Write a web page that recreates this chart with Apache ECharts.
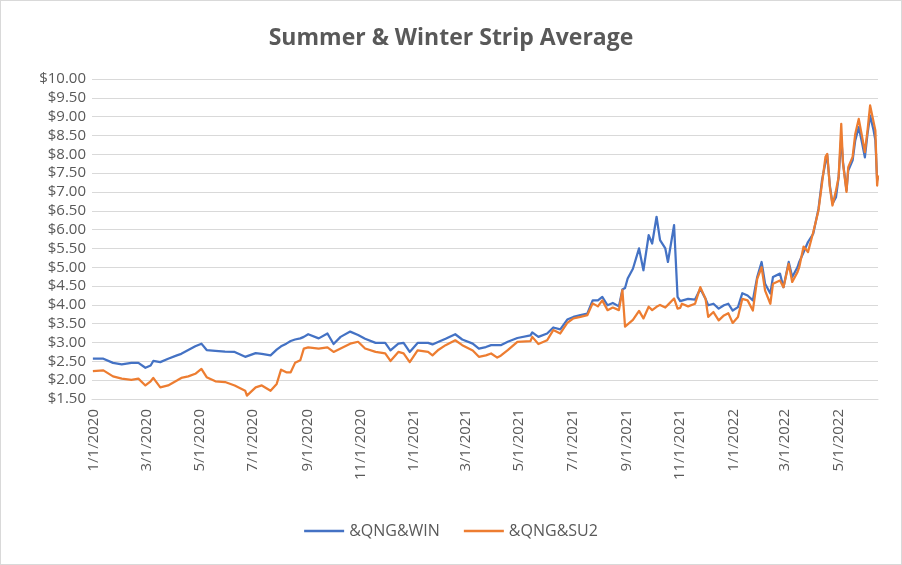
<!DOCTYPE html>
<html>
<head>
<meta charset="utf-8">
<script src="https://cdn.jsdelivr.net/npm/echarts@6/dist/echarts.min.js"></script>
<style>
  html, body { margin: 0; padding: 0; background: #fff; }
  #wrap { position: relative; width: 902px; height: 565px; }
  #chart { width: 902px; height: 565px; }
  #frame { position: absolute; left: 0; top: 0; width: 902px; height: 565px; box-sizing: border-box; border: 1px solid #d9d9d9; pointer-events: none; }
</style>
</head>
<body>
<div id="wrap"><div id="chart"></div><div id="frame"></div></div>
<script>
// ---- data ----
const titleText = 'Summer & Winter Strip Average';
const seriesNames = ['&QNG&WIN', '&QNG&SU2'];
const dates = [
 '2019-12-31','2020-01-12','2020-01-23','2020-02-02','2020-02-13','2020-02-21','2020-02-29','2020-03-06','2020-03-09','2020-03-17',
 '2020-03-26','2020-04-05','2020-04-10','2020-04-18','2020-04-26','2020-05-03','2020-05-09','2020-05-19','2020-05-30','2020-06-10',
 '2020-06-22','2020-06-24','2020-07-04','2020-07-11','2020-07-21','2020-07-28','2020-08-02','2020-08-08','2020-08-13','2020-08-18',
 '2020-08-24','2020-08-28','2020-09-02','2020-09-14','2020-09-24','2020-10-01','2020-10-09','2020-10-20','2020-10-29','2020-11-06',
 '2020-11-18','2020-11-29','2020-12-05','2020-12-14','2020-12-20','2020-12-27','2021-01-05','2021-01-17','2021-01-22','2021-01-29',
 '2021-02-06','2021-02-17','2021-02-25','2021-03-09','2021-03-16','2021-03-24','2021-03-30','2021-04-06','2021-04-10','2021-04-18',
 '2021-04-29','2021-05-14','2021-05-16','2021-05-23','2021-06-02','2021-06-09','2021-06-17','2021-06-25','2021-07-02','2021-07-10',
 '2021-07-18','2021-07-24','2021-07-30','2021-08-04','2021-08-10','2021-08-16','2021-08-23','2021-08-27','2021-08-30','2021-09-02',
 '2021-09-08','2021-09-15','2021-09-20','2021-09-26','2021-09-30','2021-10-05','2021-10-09','2021-10-15','2021-10-18','2021-10-25',
 '2021-10-29','2021-11-01','2021-11-03','2021-11-10','2021-11-18','2021-11-24','2021-11-30','2021-12-03','2021-12-09','2021-12-15',
 '2021-12-21','2021-12-26','2021-12-31','2022-01-06','2022-01-11','2022-01-17','2022-01-23','2022-01-28','2022-02-02','2022-02-06',
 '2022-02-12','2022-02-15','2022-02-23','2022-02-27','2022-03-05','2022-03-09','2022-03-15','2022-03-17','2022-03-22','2022-03-27',
 '2022-04-02','2022-04-08','2022-04-12','2022-04-16','2022-04-18','2022-04-21','2022-04-24','2022-04-28','2022-05-01','2022-05-04',
 '2022-05-06','2022-05-10','2022-05-12','2022-05-17','2022-05-20','2022-05-24','2022-05-28','2022-05-31','2022-06-03','2022-06-06',
 '2022-06-10','2022-06-12','2022-06-14','2022-06-15'
];
const winValues = [
 2.57,2.57,2.46,2.42,2.46,2.46,2.33,2.39,2.51,2.48,
 2.57,2.66,2.70,2.80,2.90,2.97,2.80,2.78,2.76,2.75,
 2.62,2.60,2.72,2.70,2.66,2.81,2.90,2.97,3.04,3.08,
 3.11,3.15,3.22,3.11,3.24,2.96,3.15,3.29,3.20,3.10,
 2.99,2.99,2.79,2.97,2.99,2.75,2.99,2.99,2.95,3.02,
 3.10,3.22,3.08,2.97,2.84,2.88,2.93,2.93,2.93,3.02,
 3.12,3.19,3.27,3.15,3.24,3.40,3.35,3.61,3.68,3.73,
 3.77,4.12,4.12,4.21,3.99,4.05,3.96,4.41,4.45,4.70,
 4.96,5.50,4.92,5.85,5.63,6.34,5.72,5.50,5.14,6.12,
 4.21,4.10,4.12,4.16,4.14,4.43,4.16,3.99,4.03,3.90,
 3.99,4.03,3.85,3.94,4.31,4.25,4.12,4.74,5.14,4.56,
 4.30,4.74,4.83,4.47,5.14,4.74,5.00,5.14,5.40,5.67,
 5.89,6.55,7.31,7.79,7.97,7.17,6.69,6.86,7.39,8.45,
 7.79,7.04,7.57,7.84,8.37,8.72,8.28,7.92,8.54,9.03,
 8.63,8.37,7.31,7.39
];
const su2Values = [
 2.24,2.26,2.10,2.04,2.01,2.04,1.86,1.97,2.06,1.81,
 1.86,1.99,2.06,2.10,2.17,2.30,2.08,1.97,1.95,1.86,
 1.72,1.59,1.81,1.86,1.72,1.90,2.28,2.21,2.21,2.46,
 2.53,2.84,2.87,2.84,2.87,2.75,2.84,2.97,3.02,2.84,
 2.75,2.71,2.51,2.75,2.71,2.48,2.79,2.75,2.66,2.81,
 2.93,3.06,2.93,2.79,2.62,2.66,2.71,2.60,2.65,2.80,
 3.02,3.04,3.15,2.96,3.06,3.33,3.24,3.52,3.64,3.68,
 3.73,4.04,3.96,4.12,3.86,3.93,3.86,4.39,3.42,3.48,
 3.60,3.84,3.64,3.95,3.86,3.95,4.00,3.93,4.00,4.17,
 3.90,3.92,4.03,3.96,4.03,4.47,4.16,3.68,3.81,3.59,
 3.72,3.78,3.52,3.68,4.16,4.12,3.85,4.69,5.00,4.38,
 4.03,4.56,4.65,4.47,5.09,4.61,4.87,5.00,5.55,5.40,
 5.93,6.51,7.22,7.93,8.01,7.13,6.64,7.04,7.39,8.81,
 7.75,7.00,7.66,7.93,8.54,8.94,8.45,8.06,8.63,9.30,
 8.85,8.63,7.17,7.44
];
const tickDates = [
 '2020-01-01','2020-03-01','2020-05-01','2020-07-01','2020-09-01','2020-11-01',
 '2021-01-01','2021-03-01','2021-05-01','2021-07-01','2021-09-01','2021-11-01',
 '2022-01-01','2022-03-01','2022-05-01'
];
const axisStart = '2019-12-30';
const axisEnd = '2022-06-15';
const yMin = 1.5, yMax = 10, yStep = 0.5;

// ---- helpers ----
function parseLocal(s) {
  const p = s.split('-').map(Number);
  return new Date(p[0], p[1] - 1, p[2]).getTime();
}
const textColor = '#595959';
const fontFam = "'Open Sans', 'Noto Sans', sans-serif";

const chart = echarts.init(document.getElementById('chart'), null, { renderer: 'canvas' });
chart.setOption({
  backgroundColor: '#ffffff',
  animation: false,
  color: ['#4472C4', '#ED7D31'],
  title: {
    text: titleText,
    left: 'center',
    top: 22,
    textStyle: { color: textColor, fontFamily: fontFam, fontSize: 23, fontWeight: 'bold' }
  },
  legend: {
    data: seriesNames,
    bottom: 21,
    left: 'center',
    icon: 'rect',
    itemWidth: 40,
    itemHeight: 2.5,
    itemGap: 24,
    textStyle: { color: textColor, fontFamily: fontFam, fontSize: 16 }
  },
  grid: { left: 92, right: 24, top: 79, bottom: 166, containLabel: false },
  xAxis: {
    type: 'value',
    min: parseLocal(axisStart),
    max: parseLocal(axisEnd),
    axisLine: { show: true, lineStyle: { color: '#d9d9d9', width: 1 } },
    axisTick: { show: false },
    splitLine: { show: false },
    axisLabel: {
      customValues: tickDates.map(parseLocal),
      rotate: 90,
      margin: 10,
      color: textColor,
      fontFamily: fontFam,
      fontSize: 15,
      hideOverlap: false,
      formatter: function (v) {
        const d = new Date(v);
        return (d.getMonth() + 1) + '/' + d.getDate() + '/' + d.getFullYear();
      }
    }
  },
  yAxis: {
    type: 'value',
    min: yMin,
    max: yMax,
    interval: yStep,
    axisLine: { show: false },
    axisTick: { show: false },
    splitLine: { lineStyle: { color: '#d9d9d9', width: 1 } },
    axisLabel: {
      margin: 6,
      color: textColor,
      fontFamily: fontFam,
      fontSize: 15,
      formatter: function (v) { return '$' + v.toFixed(2); }
    }
  },
  series: [
    {
      name: seriesNames[0],
      type: 'line',
      showSymbol: false,
      symbol: 'none',
      lineStyle: { width: 2.25, color: '#4472C4', join: 'round' },
      data: dates.map(function (d, i) { return [parseLocal(d), winValues[i]]; })
    },
    {
      name: seriesNames[1],
      type: 'line',
      showSymbol: false,
      symbol: 'none',
      lineStyle: { width: 2.25, color: '#ED7D31', join: 'round' },
      data: dates.map(function (d, i) { return [parseLocal(d), su2Values[i]]; })
    }
  ]
});
</script>
</body>
</html>
